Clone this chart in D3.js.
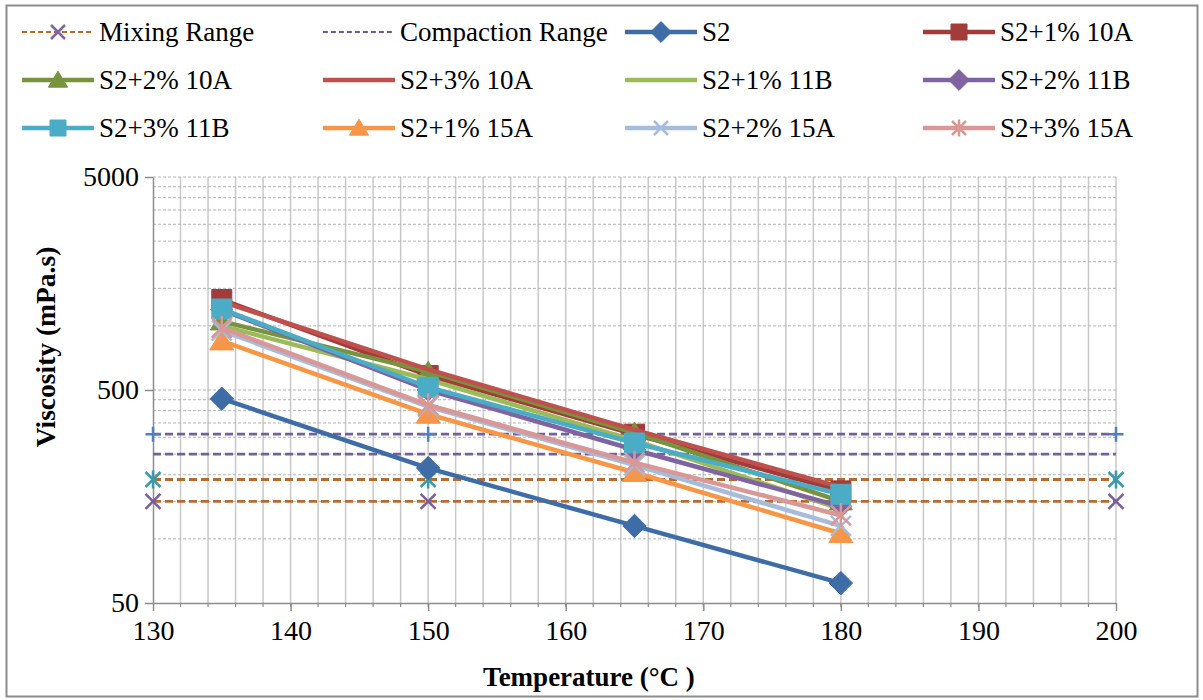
<!DOCTYPE html>
<html>
<head>
<meta charset="utf-8">
<script src="https://cdnjs.cloudflare.com/ajax/libs/d3/7.8.5/d3.min.js"></script>
<style>
  body { margin: 0; background: #fff; }
  text { font-family: "Liberation Serif", "Times New Roman", serif; fill: #000; }
</style>
</head>
<body>
<script>
// temperatures where viscosity was measured
var temps = [135, 150, 165, 180];

var s2 = [455, 215, 115, 62];
var s2_1_10A = [1330, 585, 310, 168];
var s2_2_10A = [1050, 610, 315, 150];
var s2_3_10A = [1300, 625, 325, 175];
var s2_1_11B = [1000, 560, 290, 138];
var s2_2_11B = [1190, 500, 262, 142];
var s2_3_11B = [1200, 515, 282, 162];
var s2_1_15A = [850, 385, 205, 106];
var s2_2_15A = [950, 418, 222, 115];
var s2_3_15A = [980, 425, 228, 129];

// recommended ranges (mPa.s)
var mixingRange = [150, 190];
var compactionRange = [250, 310];
var rangeTemps = [130, 150, 200];

var xTicks = [130, 140, 150, 160, 170, 180, 190, 200];
var yTicks = [50, 500, 5000];

var svgWidth = 1203, svgHeight = 700;
var svg = d3.select('body').append('svg').attr('width', svgWidth).attr('height', svgHeight);

// chart frame
svg.append('rect').attr('x', 6.5).attr('y', 5.5).attr('width', 1191).attr('height', 691)
    .attr('fill', '#fff').attr('stroke', '#8c8c8c').attr('stroke-width', 2);

var x = d3.scaleLinear().domain([130, 200]).range([153, 1116]);
var y = d3.scaleLog().domain([50, 5000]).range([603, 177]);

// vertical grid every 2 degrees
var g = svg.append('g');
g.selectAll('.vgrid').data(d3.range(132, 201, 2)).enter().append('line')
    .attr('x1', function (d) { return x(d); }).attr('x2', function (d) { return x(d); })
    .attr('y1', y(5000)).attr('y2', y(50))
    .attr('stroke', '#c8c8c8').attr('stroke-width', 1.5);

// horizontal grid (dashed), log minor steps
var hGrid = d3.range(100, 500, 50).concat(d3.range(500, 5001, 500));
g.selectAll('.hgrid').data(hGrid).enter().append('line')
    .attr('x1', x(130)).attr('x2', x(200))
    .attr('y1', function (d) { return y(d); }).attr('y2', function (d) { return y(d); })
    .attr('stroke', '#b4b4b4').attr('stroke-width', 1).attr('stroke-dasharray', '3,2');

// axes
var xAxis = d3.axisBottom(x).tickValues(xTicks).tickSize(8).tickSizeOuter(0).tickPadding(9);
var xg = svg.append('g').attr('transform', 'translate(0,' + y(50) + ')').call(xAxis);
xg.selectAll('.tick line').attr('stroke', '#8c8c8c').attr('stroke-width', 1.5);
xg.select('.domain').attr('stroke', '#8c8c8c').attr('stroke-width', 1.5);
xg.selectAll('text').attr('font-size', 28).attr('font-family', '"Liberation Serif", serif');
// minor ticks
svg.append('g').selectAll('line').data(d3.range(132, 200, 2)).enter().append('line')
    .attr('x1', function (d) { return x(d); }).attr('x2', function (d) { return x(d); })
    .attr('y1', y(50)).attr('y2', y(50) + 4)
    .attr('stroke', '#8c8c8c').attr('stroke-width', 1.2);

var yAxis = d3.axisLeft(y).tickValues(yTicks).tickFormat(d3.format('d')).tickSize(8).tickSizeOuter(0).tickPadding(6);
var yg = svg.append('g').attr('transform', 'translate(' + x(130) + ',0)').call(yAxis);
yg.selectAll('.tick line').attr('stroke', '#8c8c8c').attr('stroke-width', 1.5);
yg.select('.domain').attr('stroke', '#8c8c8c').attr('stroke-width', 1.5);
yg.selectAll('text').attr('font-size', 28).attr('font-family', '"Liberation Serif", serif');

// axis titles
svg.append('text').attr('x', 589).attr('y', 686).attr('text-anchor', 'middle')
    .attr('font-size', 27).attr('font-weight', 'bold').text('Temperature (\u00B0C )');
svg.append('text').attr('transform', 'translate(55,347) rotate(-90)').attr('text-anchor', 'middle')
    .attr('font-size', 27.5).attr('font-weight', 'bold').text('Viscosity (mPa.s)');

// marker shapes
function markerPath(type, s) {
    if (type == 'square') return d3.symbol(d3.symbolSquare, s * s)();
    if (type == 'diamond') return 'M0,' + (-s * 0.65) + 'L' + (s * 0.65) + ',0L0,' + (s * 0.65) + 'L' + (-s * 0.65) + ',0Z';
    if (type == 'triangle') return 'M0,' + (-s * 0.55) + 'L' + (s * 0.6) + ',' + (s * 0.45) + 'L' + (-s * 0.6) + ',' + (s * 0.45) + 'Z';
    var h = s / 2;
    if (type == 'x') return 'M' + -h + ',' + -h + 'L' + h + ',' + h + 'M' + -h + ',' + h + 'L' + h + ',' + -h;
    if (type == 'plus') return 'M' + -h + ',0L' + h + ',0M0,' + -h + 'L0,' + h;
    if (type == 'star') return 'M' + -h + ',' + -h + 'L' + h + ',' + h + 'M' + -h + ',' + h + 'L' + h + ',' + -h + 'M0,' + -h * 1.2 + 'L0,' + h * 1.2;
    return '';
}
var filled = { square: true, diamond: true, triangle: true };

function drawMarker(parent, type, cx, cy, color, s) {
    var p = parent.append('path').attr('d', markerPath(type, s))
        .attr('transform', 'translate(' + cx + ',' + cy + ')');
    if (filled[type]) p.attr('fill', color).attr('stroke', color).attr('stroke-width', 1);
    else p.attr('fill', 'none').attr('stroke', color).attr('stroke-width', 2.5);
}

// range lines
var ranges = [
    { v: mixingRange[0], color: '#B96A2C', marker: 'x', mcolor: '#7A5E9C' },
    { v: mixingRange[1], color: '#B96A2C', marker: 'star', mcolor: '#3C9AAA' },
    { v: compactionRange[0], color: '#7460A0', marker: null },
    { v: compactionRange[1], color: '#7460A0', marker: 'plus', mcolor: '#4F81BD' }
];
var rg = svg.append('g');
ranges.forEach(function (r) {
    rg.append('line').attr('x1', x(130)).attr('x2', x(200)).attr('y1', y(r.v)).attr('y2', y(r.v))
        .attr('stroke', r.color).attr('stroke-width', 2.8).attr('stroke-dasharray', '8,4');
    if (r.marker) rangeTemps.forEach(function (t) { drawMarker(rg, r.marker, x(t), y(r.v), r.mcolor, 15); });
});

var series = [
    { name: 'S2', values: s2, color: '#3D6CA6', marker: 'diamond', ms: 18 },
    { name: 'S2+1% 10A', values: s2_1_10A, color: '#A13C3A', marker: 'square', ms: 20 },
    { name: 'S2+2% 10A', values: s2_2_10A, color: '#77933C', marker: 'triangle', ms: 19 },
    { name: 'S2+3% 10A', values: s2_3_10A, color: '#C0504D', marker: null },
    { name: 'S2+1% 11B', values: s2_1_11B, color: '#9BBB59', marker: null },
    { name: 'S2+2% 11B', values: s2_2_11B, color: '#8064A2', marker: 'diamond', ms: 17 },
    { name: 'S2+3% 11B', values: s2_3_11B, color: '#4BACC6', marker: 'square', ms: 20 },
    { name: 'S2+1% 15A', values: s2_1_15A, color: '#F79646', marker: 'triangle', ms: 20 },
    { name: 'S2+2% 15A', values: s2_2_15A, color: '#A7BBDC', marker: 'x', ms: 20 },
    { name: 'S2+3% 15A', values: s2_3_15A, color: '#D99796', marker: 'star', ms: 20 }
];

var line = d3.line().x(function (d) { return x(d[0]); }).y(function (d) { return y(d[1]); });
var sg = svg.append('g');
series.forEach(function (s) {
    var pts = temps.map(function (t, i) { return [t, s.values[i]]; });
    sg.append('path').attr('d', line(pts)).attr('fill', 'none')
        .attr('stroke', s.color).attr('stroke-width', 4.5).attr('stroke-linejoin', 'round');
    if (s.marker) pts.forEach(function (p) { drawMarker(sg, s.marker, x(p[0]), y(p[1]), s.color, s.ms); });
});

// legend: 4 columns x 3 rows
var legendItems = [
    { name: 'Mixing Range', color: '#B96A2C', dash: '5,3', marker: 'x', mcolor: '#8064A2', width: 2 },
    { name: 'Compaction Range', color: '#7460A0', dash: '5,3', marker: null, width: 2 }
].concat(series.map(function (s) {
    return { name: s.name, color: s.color, marker: s.marker, mcolor: s.color, width: 4.5 };
}));
var colX = [22, 323, 625, 923];
var rowY = [32, 80, 128];
var lg = svg.append('g');
legendItems.forEach(function (item, i) {
    var lx = colX[i % 4], ly = rowY[Math.floor(i / 4)];
    var l = lg.append('line').attr('x1', lx).attr('x2', lx + 72).attr('y1', ly).attr('y2', ly)
        .attr('stroke', item.color).attr('stroke-width', item.width);
    if (item.dash) l.attr('stroke-dasharray', item.dash);
    if (item.marker) drawMarker(lg, item.marker, lx + 36, ly, item.mcolor, item.marker == 'x' || item.marker == 'star' ? 14 : 16);
    lg.append('text').attr('x', lx + 77).attr('y', ly + 9).attr('font-size', 27).text(item.name);
});
</script>
</body>
</html>
